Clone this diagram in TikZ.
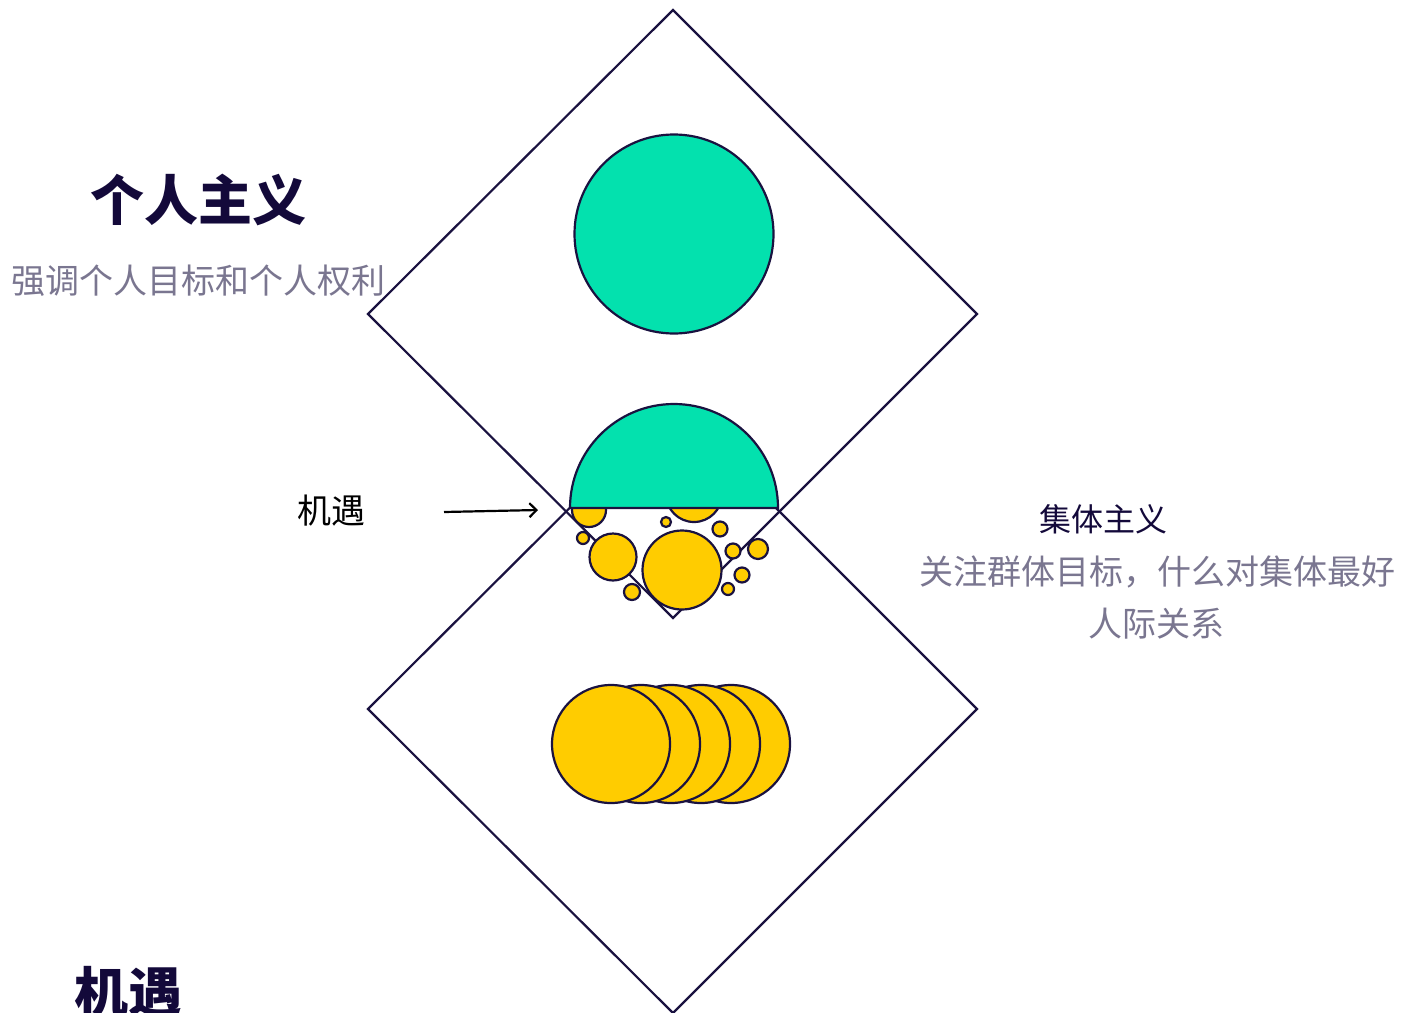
\documentclass[tikz,border=0pt]{standalone}
\usepackage{fontspec}
\newfontfamily\cjk{Noto Sans CJK SC}
\usetikzlibrary{arrows.meta}
\definecolor{ink}{HTML}{1A1240}
\definecolor{titlec}{HTML}{13093A}
\definecolor{greyc}{HTML}{7A7690}
\definecolor{mint}{HTML}{03E1AE}
\definecolor{gold}{HTML}{FFCC00}
\begin{document}
\begin{tikzpicture}[x=1pt,y=-1pt,
  edge/.style={draw=ink, line width=2.2pt},
  gdisc/.style={fill=mint, draw=ink, line width=2.2pt},
  ydisc/.style={fill=gold, draw=ink, line width=2.2pt},
  bigtitle/.style={font=\cjk\bfseries\fontsize{54}{54}\selectfont, text=titlec, inner sep=0pt},
  subtitle/.style={font=\cjk\fontsize{32}{32}\selectfont, text=titlec, inner sep=0pt},
  greytext/.style={font=\cjk\fontsize{34}{34}\selectfont, text=greyc, inner sep=0pt},
  lbl/.style={font=\cjk\fontsize{34}{34}\selectfont, text=black, inner sep=0pt},
  pointer/.style={draw=black, line width=2.2pt, -{Straight Barb[length=7pt,width=14pt,line width=2.2pt]}}
]
\useasboundingbox (0,0) rectangle (1413,1012);
% diamonds
\draw[edge] (673,10) -- (977,314) -- (673,618) -- (368,314) -- cycle;
\draw[edge] (673,405) -- (977,709) -- (673,1013) -- (368,709) -- cycle;
% small yellow circles in the overlap
\draw[ydisc] (589,510) circle[radius=17pt];
\draw[ydisc] (694,494) circle[radius=28pt];
\draw[ydisc] (583,538) circle[radius=6pt];
\draw[ydisc] (613,557) circle[radius=23.5pt];
\draw[ydisc] (632,592) circle[radius=8pt];
\draw[ydisc] (682,570) circle[radius=39.5pt];
\draw[ydisc] (666,522) circle[radius=5pt];
\draw[ydisc] (720,529) circle[radius=7.5pt];
\draw[ydisc] (733,551) circle[radius=7.5pt];
\draw[ydisc] (758,549) circle[radius=10pt];
\draw[ydisc] (742,575) circle[radius=7.5pt];
\draw[ydisc] (728,589) circle[radius=6pt];
% half disc
\draw[gdisc] (570,508) arc[start angle=180, end angle=0, radius=104pt] -- cycle;
% top disc
\draw[gdisc] (674,234) circle[radius=99.5pt];
% row of yellow discs
\foreach \cx in {731,701,671,641,611}
  \draw[ydisc] (\cx,744) circle[radius=59pt];
% texts
\node[bigtitle] (indiv) at (198,200) {个人主义};
\node[greytext] (indivsub) at (198,281) {强调个人目标和个人权利};
\node[subtitle] (coll) at (1103,519) {集体主义};
\node[greytext] (collsub1) at (1157,572) {关注群体目标，什么对集体最好};
\node[greytext] (collsub2) at (1156,624) {人际关系};
\node[lbl] (chance) at (331,511) {机遇};
\node[bigtitle] (chancebig) at (128,992) {机遇};
% arrow
\coordinate (astart) at (444,512);
\coordinate (atip) at (538,510);
\draw[pointer] (astart) -- (atip);
\end{tikzpicture}
\end{document}
